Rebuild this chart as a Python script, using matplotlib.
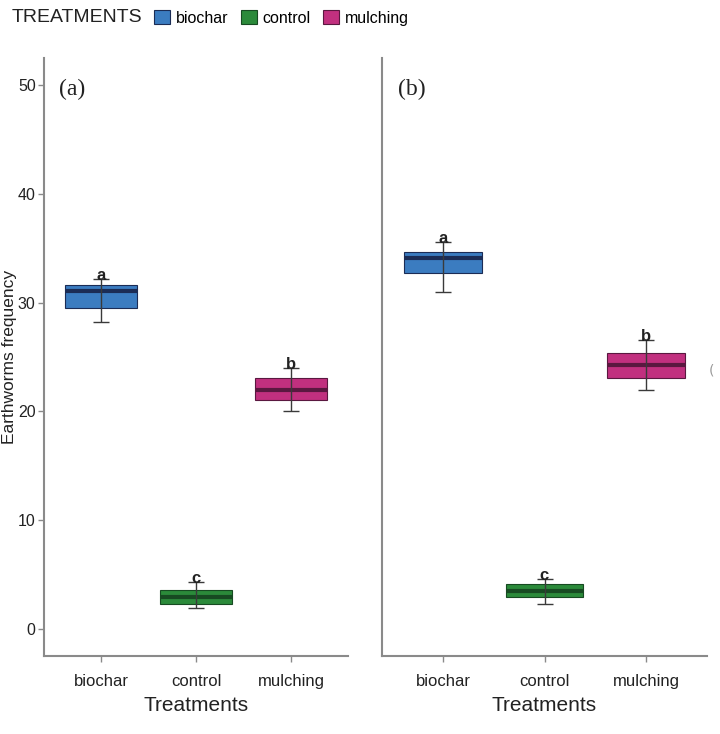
import numpy as np
import matplotlib
matplotlib.use("Agg")
from matplotlib import pyplot as plt
from matplotlib.patches import Patch

# values
treatments = ["biochar", "control", "mulching"]
colors = ["#3b7cc0", "#2b8a3a", "#c1307f"]
median_colors = ["#1b2c55", "#174a22", "#5a1840"]

# panel (a)
a_q1 = [29.5, 2.3, 21.0]
a_med = [31.1, 2.9, 22.0]
a_q3 = [31.6, 3.6, 23.1]
a_lo = [28.2, 1.9, 20.0]
a_hi = [32.2, 4.3, 24.0]
a_letters = ["a", "c", "b"]

# panel (b)
b_q1 = [32.7, 2.9, 23.1]
b_med = [34.1, 3.5, 24.3]
b_q3 = [34.7, 4.1, 25.4]
b_lo = [31.0, 2.3, 22.0]
b_hi = [35.6, 4.6, 26.6]
b_letters = ["a", "c", "b"]

yticks = [0, 10, 20, 30, 40, 50]

sans = ["Liberation Sans", "DejaVu Sans"]
spine_col = "#8a8a8a"
text_col = "#222222"

fig = plt.figure(figsize=(7.2, 7.34), dpi=100)
ax_a = fig.add_axes([44/720, 78/734, 304/720, 598/734])
ax_b = fig.add_axes([382/720, 78/734, 325/720, 598/734])


def panel(ax, q1, med, q3, lo, hi, letters, tag):
    x = np.arange(len(treatments))
    stats = []
    for i in range(len(treatments)):
        stats.append(dict(med=med[i], q1=q1[i], q3=q3[i],
                          whislo=q1[i], whishi=q3[i], fliers=[]))
    bp = ax.bxp(stats, positions=x, widths=0.76, showcaps=False,
                showfliers=False, patch_artist=True, manage_ticks=False)
    for i, box in enumerate(bp["boxes"]):
        box.set_facecolor(colors[i])
        box.set_edgecolor(median_colors[i])
        box.set_linewidth(0.8)
        bp["medians"][i].set_color(median_colors[i])
        bp["medians"][i].set_linewidth(3)
    for w in bp["whiskers"]:
        w.set_visible(False)
    ax.errorbar(x, med, yerr=[np.array(med) - np.array(lo), np.array(hi) - np.array(med)],
                fmt="none", ecolor="#3a3a3a", elinewidth=1, capsize=6, capthick=1, zorder=5)
    for i in range(len(treatments)):
        ax.text(x[i], hi[i] - 0.4, letters[i], ha="center", va="bottom",
                fontsize=12, fontweight="bold", family=sans, color=text_col, zorder=6)
    ax.set_xlim(-0.6, len(treatments) - 0.4)
    ax.set_ylim(-2.5, 52.5)
    ax.set_xticks(x)
    ax.set_xticklabels(treatments, family=sans, fontsize=12)
    ax.set_yticks(yticks)
    ax.set_xlabel("Treatments", family=sans, fontsize=15, color=text_col, labelpad=5)
    for s in ["top", "right"]:
        ax.spines[s].set_visible(False)
    for s in ["left", "bottom"]:
        ax.spines[s].set_color(spine_col)
        ax.spines[s].set_linewidth(1.5)
    ax.tick_params(color=spine_col, labelcolor=text_col, length=4, width=1)
    ax.tick_params(axis="x", pad=9)
    ax.text(0.05, 0.965, tag, transform=ax.transAxes, family="Liberation Serif",
            fontsize=17, va="top", ha="left", color=text_col)


panel(ax_a, a_q1, a_med, a_q3, a_lo, a_hi, a_letters, "(a)")
panel(ax_b, b_q1, b_med, b_q3, b_lo, b_hi, b_letters, "(b)")

ax_a.set_yticklabels([str(t) for t in yticks], family=sans, fontsize=11.5)
ax_a.tick_params(axis="y", pad=2)
ax_a.set_ylabel("Earthworms frequency", family=sans, fontsize=12.5, color=text_col)
ax_a.yaxis.set_label_coords(-0.088, 0.5)
ax_b.set_yticklabels([])
ax_b.tick_params(axis="y", length=0)

# legend across the top
fig.text(12/720, 1 - 18/734, "TREATMENTS", family=sans, fontsize=14,
         va="center", ha="left", color=text_col)
handles = [Patch(facecolor=c, edgecolor=m, linewidth=0.8) for c, m in zip(colors, median_colors)]
fig.legend(handles, treatments, ncol=3, frameon=False, loc="center left",
           bbox_to_anchor=(154/720, 1 - 18/734), prop={"family": sans, "size": 11.5},
           handlelength=1.0, handleheight=1.0, handletextpad=0.35, columnspacing=0.8,
           borderaxespad=0, borderpad=0)

# clipped marker at the right edge of panel (b)
fig.text(712/720, 1 - 370/734, "(", fontsize=10, color="#9a9a9a", va="center", ha="center")

fig.savefig("out.png", dpi=100, facecolor="white")
